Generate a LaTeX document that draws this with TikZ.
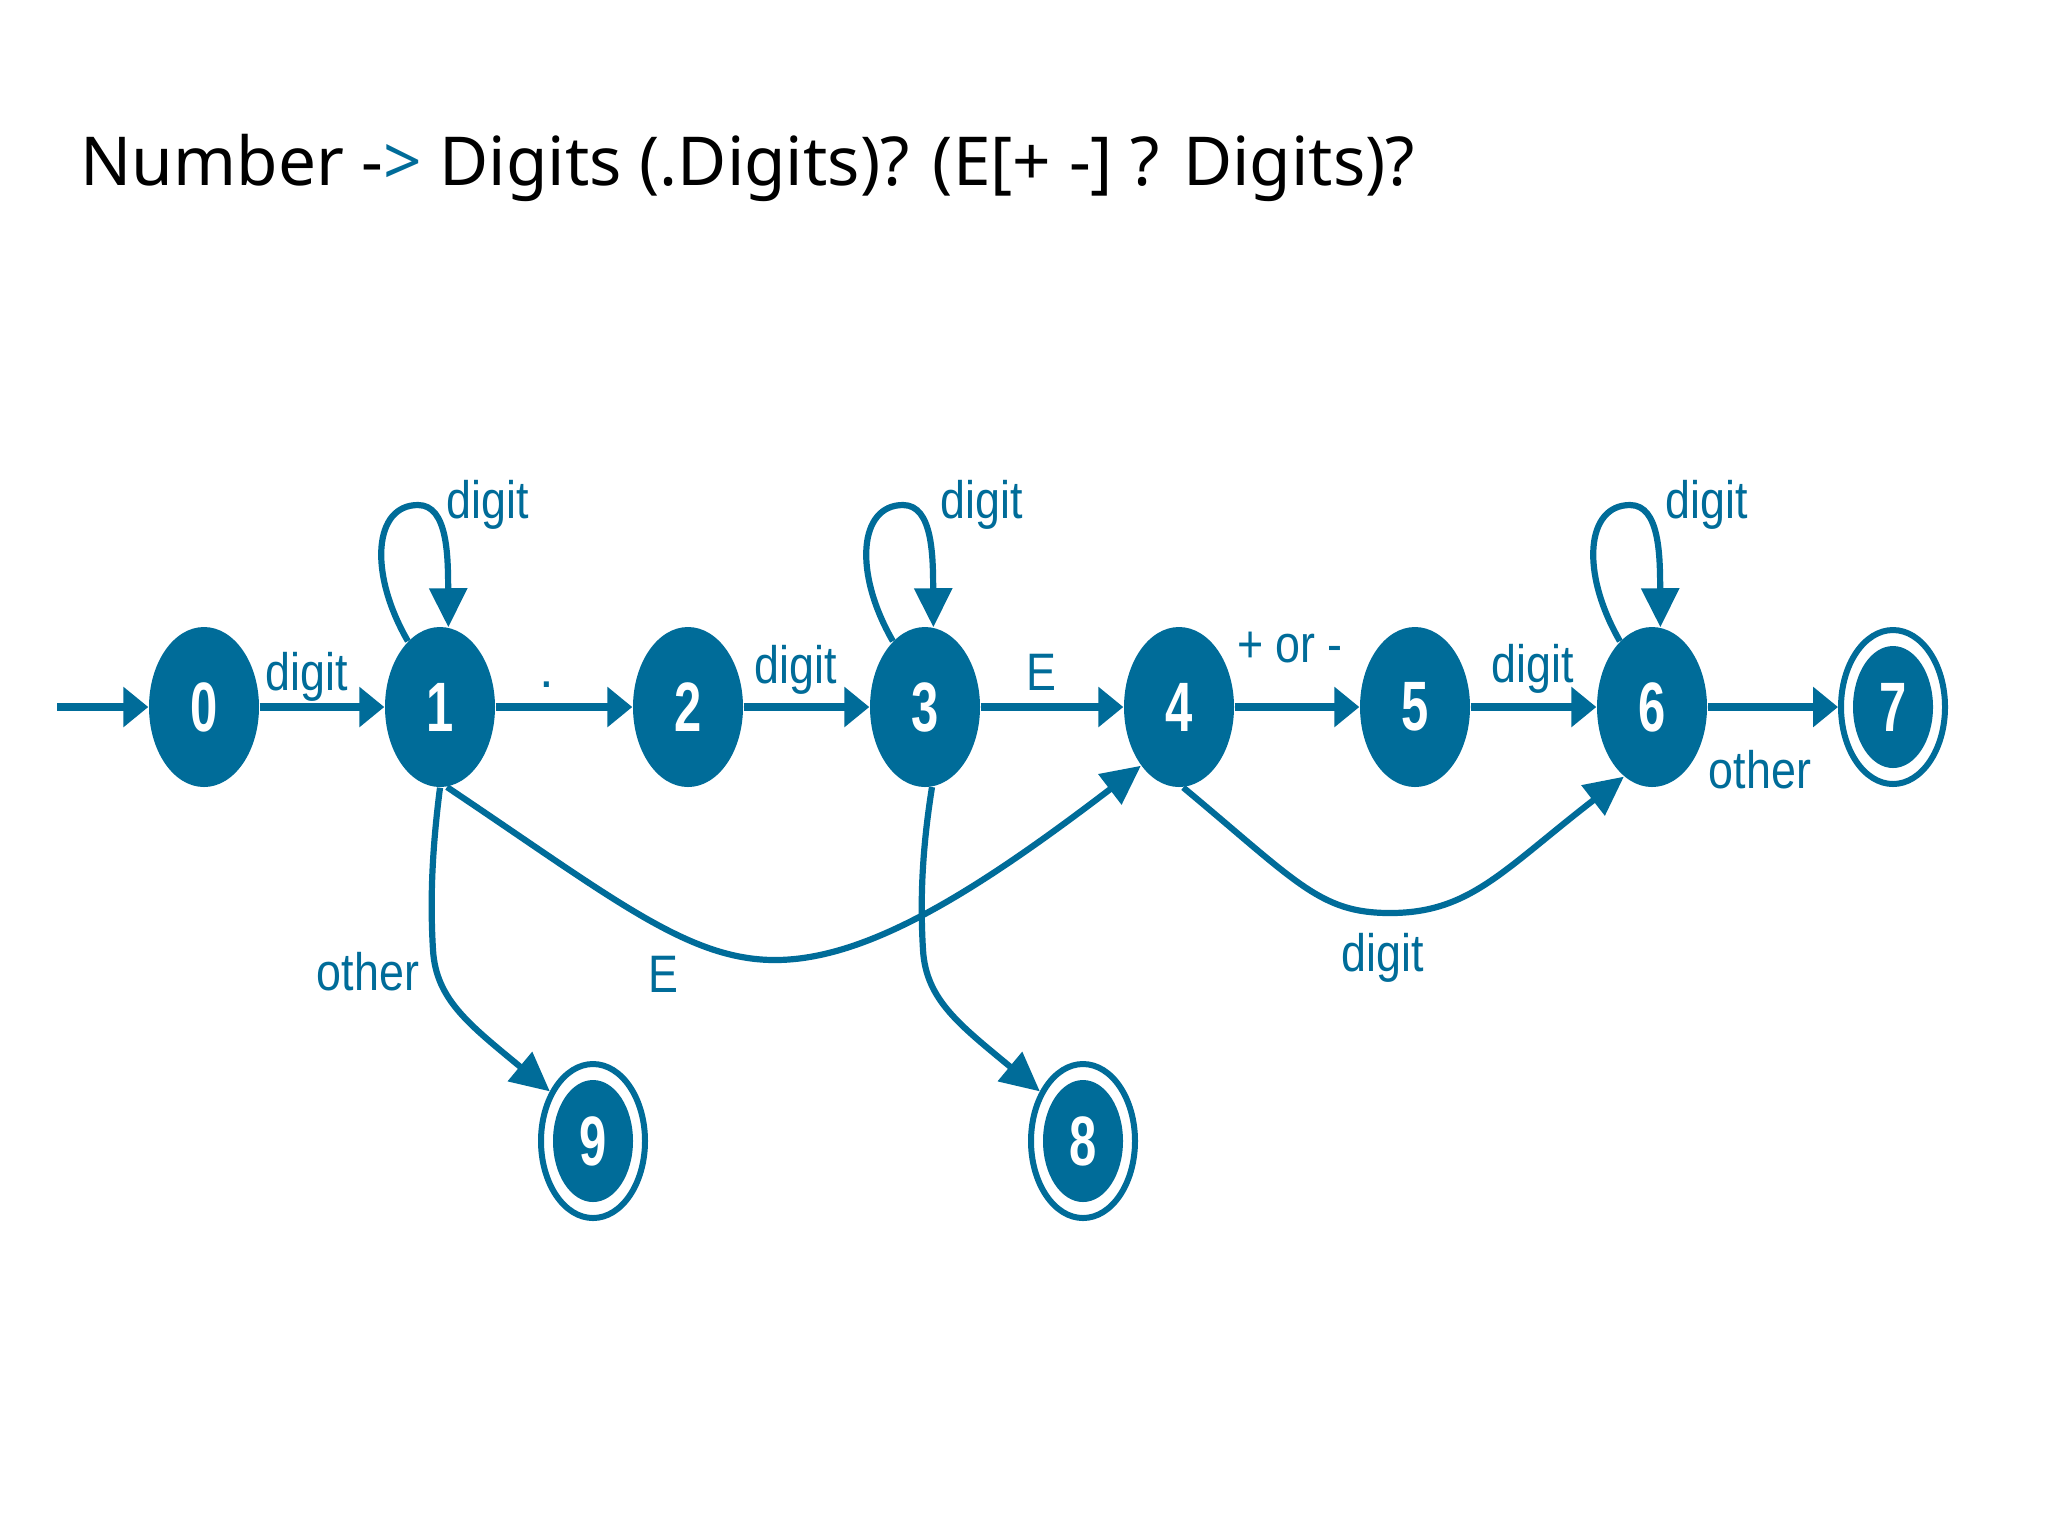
\documentclass[tikz,border=0pt]{standalone}
\usepackage{fontspec}
\setmainfont{Liberation Sans}
\newfontfamily\titlefont{Noto Sans}
\usetikzlibrary{shapes.geometric,arrows.meta,calc}
\definecolor{dfa}{RGB}{0,108,153}
\newcommand{\cond}[2]{\scalebox{#1}[1]{#2}}
\begin{document}
\begin{tikzpicture}[x=0.1mm,y=0.1mm,
  state/.style={ellipse, fill=dfa, minimum width=11mm, minimum height=16mm, inner sep=0pt, text=white, font=\fontsize{19.9}{20}\selectfont\bfseries},
  accept/.style={ellipse, draw=dfa, line width=0.6mm, fill=white, minimum width=10.4mm, minimum height=15.4mm, inner sep=0pt, text=white, font=\fontsize{19.9}{20}\selectfont\bfseries,
    path picture={\fill[dfa] (path picture bounding box.center) ellipse (4mm and 6.1mm);}},
  edge/.style={draw=dfa, line width=0.75mm, -{Triangle[length=2.5mm,width=3.9mm]}},
  cedge/.style={draw=dfa, line width=0.62mm, -{Triangle[length=3.9mm,width=3.7mm]}},
  lbl/.style={text=dfa, inner sep=0pt, anchor=base, font=\fontsize{15}{16}\selectfont},
]
\useasboundingbox[fill=white] (0,0) rectangle (2048,-1536);

\node[anchor=base west, inner sep=0pt, font=\titlefont\fontsize{19.2}{20}\selectfont] (title) at (80,-185)
  {Number -\textcolor{dfa}{>} Digits (.Digits)? (E[+ -] ? Digits)?};

% states
\node[state] (n0) at (204,-707) {\cond{0.7}{0}};
\node[state] (n1) at (440,-707) {\cond{0.7}{1}};
\node[state] (n2) at (688,-707) {\cond{0.7}{2}};
\node[state] (n3) at (925,-707) {\cond{0.7}{3}};
\node[state] (n4) at (1179,-707) {\cond{0.7}{4}};
\node[state] (n5) at (1415,-707) {\cond{0.7}{5}};
\node[state] (n6) at (1652,-707) {\cond{0.7}{6}};
\node[accept] (n7) at (1893,-707) {\cond{0.7}{7}};
\node[accept] (n8) at (1083,-1141) {\cond{0.7}{8}};
\node[accept] (n9) at (593,-1141) {\cond{0.7}{9}};

% straight transitions
\coordinate (init) at (57,-707);
\draw[edge] (init) -- (n0);
\draw[edge] (n0) -- (n1);
\draw[edge] (n1) -- (n2);
\draw[edge] (n2) -- (n3);
\draw[edge] (n3) -- (n4);
\draw[edge] (n4) -- (n5);
\draw[edge] (n5) -- (n6);
\draw[edge] (n6) -- (n7);

% self loops
\foreach \s in {n1,n3,n6}{
  \draw[cedge] (\s.116) .. controls ($(\s.center)+(-72,135)$) and ($(\s.center)+(-66,202)$) .. ($(\s.center)+(-22,202)$)
     .. controls ($(\s.center)+(8,202)$) and ($(\s.center)+(8,150)$) .. (\s.84);
}

% curved transitions
\draw[cedge] (n1.south) .. controls (432,-850) and (430,-900) .. (433,-950)
   .. controls (436,-1000) and (470,-1025) .. (n9.131);
\draw[cedge] (n3.-85) .. controls (922,-850) and (920,-900) .. (923,-950)
   .. controls (926,-1000) and (960,-1025) .. (n8.131);
\draw[cedge] (n1.-85) .. controls (614,-899) and (688,-960) .. (775,-960)
   .. controls (868,-960) and (978,-890) .. (n4.237);
\draw[cedge] (n4.-87) .. controls (1298,-883) and (1320,-913) .. (1390,-913)
   .. controls (1470,-913) and (1503,-870) .. (n6.248);

% labels
\node[lbl] (t01) at (307,-690) {\cond{0.85}{digit}};
\node[lbl] (t12) at (547,-687) {.};
\node[lbl] (t23) at (796,-683) {\cond{0.85}{digit}};
\node[lbl] (t34) at (1041,-690) {\cond{0.85}{E}};
\node[lbl] (t45) at (1290,-662) {\cond{0.85}{+ or -}};
\node[lbl] (t56) at (1533,-682) {\cond{0.85}{digit}};
\node[lbl] (t67) at (1760,-788) {\cond{0.85}{other}};
\node[lbl] (tl1) at (488,-518) {\cond{0.85}{digit}};
\node[lbl] (tl3) at (982,-518) {\cond{0.85}{digit}};
\node[lbl] (tl6) at (1707,-518) {\cond{0.85}{digit}};
\node[lbl] (t19) at (368,-990) {\cond{0.85}{other}};
\node[lbl] (t14) at (663,-992) {\cond{0.85}{E}};
\node[lbl] (t46) at (1383,-971) {\cond{0.85}{digit}};
\end{tikzpicture}
\end{document}
